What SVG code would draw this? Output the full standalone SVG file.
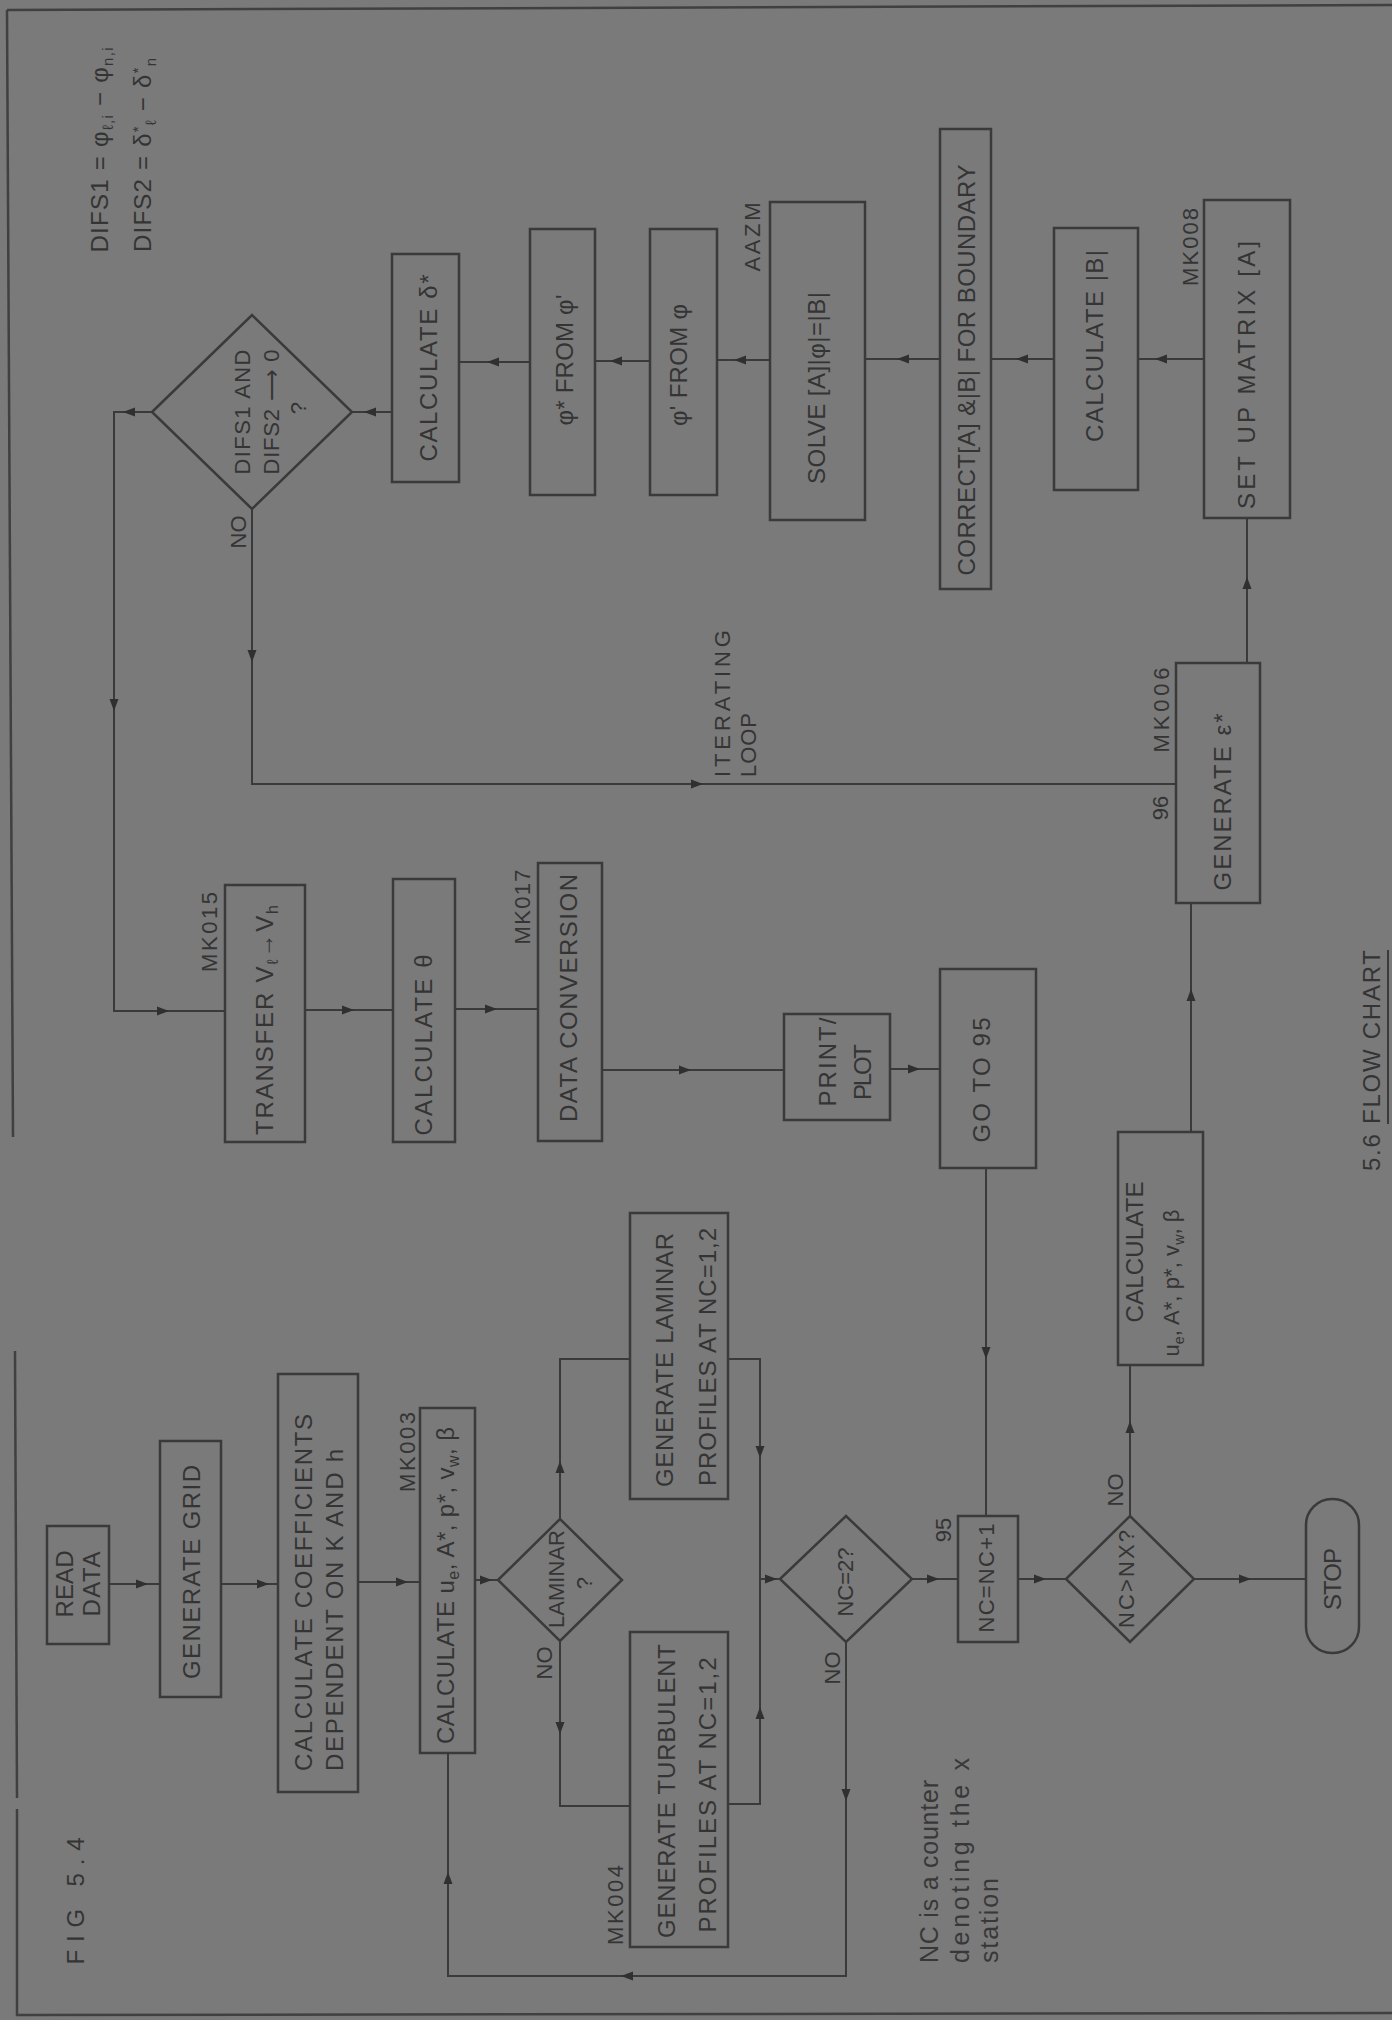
<svg xmlns="http://www.w3.org/2000/svg" xmlns:xlink="http://www.w3.org/1999/xlink" width="1392" height="2020" viewBox="0 0 1392 2020">
<style>
.box{fill:none;stroke:#3a3a3a;stroke-width:2.5}
.ln{fill:none;stroke:#3a3a3a;stroke-width:2}
.fr{fill:none;stroke:#404040;stroke-width:2.5}
.t{font-family:"Liberation Sans",Arial,sans-serif;font-size:24px;fill:#343434}
.s{font-family:"Liberation Sans",Arial,sans-serif;font-size:22px;fill:#343434}
.n{font-family:"Liberation Sans",Arial,sans-serif;font-size:25px;fill:#383838}
</style>
<defs>
<path id="ah" d="M6,0 L-6,-4.5 L-6,4.5 Z" fill="#303030"/>
</defs>
<rect x="0" y="0" width="1392" height="2020" fill="#7a7a7a"/>
<g id="frame">
<path class="fr" d="M7,10 L1392,5"/>
<path class="fr" d="M7,10 L13,1137"/>
<path class="fr" d="M15,1351 L17,1798"/>
<path class="fr" d="M17,1809 L17,2015 L1392,2013"/>
</g>
<g id="connectors">
<path class="ln" d="M1204,359 H1138"/><use href="#ah" transform="translate(1161,359) rotate(180)"/>
<path class="ln" d="M1054,359 H991"/><use href="#ah" transform="translate(1022,359) rotate(180)"/>
<path class="ln" d="M940,359 H865"/><use href="#ah" transform="translate(903,359) rotate(180)"/>
<path class="ln" d="M770,360 H717"/><use href="#ah" transform="translate(740,360) rotate(180)"/>
<path class="ln" d="M650,361 H595"/><use href="#ah" transform="translate(616,361) rotate(180)"/>
<path class="ln" d="M530,362 H459"/><use href="#ah" transform="translate(493,362) rotate(180)"/>
<path class="ln" d="M392,412 H352"/><use href="#ah" transform="translate(370,412) rotate(180)"/>
<path class="ln" d="M152,412 H114 V1011 H225"/><use href="#ah" transform="translate(129,412) rotate(180)"/><use href="#ah" transform="translate(114,705) rotate(90)"/><use href="#ah" transform="translate(163,1011)"/>
<path class="ln" d="M252,509 V784 H1176"/><use href="#ah" transform="translate(252,656) rotate(90)"/><use href="#ah" transform="translate(697,784)"/>
<path class="ln" d="M305,1010 H393"/><use href="#ah" transform="translate(348,1010)"/>
<path class="ln" d="M455,1009 H538"/><use href="#ah" transform="translate(491,1009)"/>
<path class="ln" d="M602,1070 H784"/><use href="#ah" transform="translate(685,1070)"/>
<path class="ln" d="M890,1069 H940"/><use href="#ah" transform="translate(914,1069)"/>
<path class="ln" d="M986,1168 V1516"/><use href="#ah" transform="translate(986,1353) rotate(90)"/>
<path class="ln" d="M1247,663 V518"/><use href="#ah" transform="translate(1247,583) rotate(-90)"/>
<path class="ln" d="M1191,1132 V903"/><use href="#ah" transform="translate(1191,995) rotate(-90)"/>
<path class="ln" d="M1130,1516 V1365"/><use href="#ah" transform="translate(1130,1427) rotate(-90)"/>
<path class="ln" d="M1194,1579 H1306"/><use href="#ah" transform="translate(1245,1579)"/>
<path class="ln" d="M1018,1579 H1066"/><use href="#ah" transform="translate(1040,1579)"/>
<path class="ln" d="M912,1579 H958"/><use href="#ah" transform="translate(933,1579)"/>
<path class="ln" d="M846,1642 V1976 H448 V1753"/><use href="#ah" transform="translate(846,1795) rotate(90)"/><use href="#ah" transform="translate(627,1976) rotate(180)"/><use href="#ah" transform="translate(448,1878) rotate(-90)"/>
<path class="ln" d="M475,1580 H498"/><use href="#ah" transform="translate(486,1580)"/>
<path class="ln" d="M358,1582 H420"/><use href="#ah" transform="translate(402,1582)"/>
<path class="ln" d="M221,1584 H278"/><use href="#ah" transform="translate(263,1584)"/>
<path class="ln" d="M109,1584 H160"/><use href="#ah" transform="translate(142,1584)"/>
<path class="ln" d="M560,1519 V1359 H630"/><use href="#ah" transform="translate(560,1467) rotate(-90)"/>
<path class="ln" d="M560,1641 V1806 H630"/><use href="#ah" transform="translate(560,1728) rotate(90)"/>
<path class="ln" d="M728,1359 H760 V1804 H728 M760,1579 H780"/><use href="#ah" transform="translate(760,1452) rotate(90)"/><use href="#ah" transform="translate(760,1713) rotate(-90)"/><use href="#ah" transform="translate(771,1579)"/>
</g>
<g id="read-data">
<rect class="box" x="47" y="1526" width="62" height="118"/>
<text class="t" text-anchor="middle" transform="translate(65,1584) rotate(-90)" y="8" textLength="67">READ</text>
<text class="t" text-anchor="middle" transform="translate(92,1584) rotate(-90)" y="8" textLength="65">DATA</text>
</g>
<g id="generate-grid">
<rect class="box" x="160" y="1441" width="61" height="256"/>
<text class="t" text-anchor="middle" transform="translate(192,1572) rotate(-90)" y="8" textLength="214">GENERATE  GRID</text>
</g>
<g id="calc-coeff">
<rect class="box" x="278" y="1374" width="80" height="418"/>
<text class="t" transform="translate(304,1771) rotate(-90)" y="8" textLength="357">CALCULATE COEFFICIENTS</text>
<text class="t" transform="translate(335,1771) rotate(-90)" y="8" textLength="322">DEPENDENT ON K AND h</text>
</g>
<g id="mk003">
<rect class="box" x="420" y="1408" width="55" height="345"/>
<text class="t" transform="translate(446,1744) rotate(-90)" y="8" textLength="317">CALCULATE  u<tspan dy="5" font-size="16">e</tspan><tspan dy="-5">, A*, p*, v</tspan><tspan dy="5" font-size="16">w</tspan><tspan dy="-5">, β</tspan></text>
<text class="s" text-anchor="middle" transform="translate(408,1452) rotate(-90)" y="7" textLength="80">MK003</text>
</g>
<g id="laminar">
<polygon class="box" points="498,1580 560,1519 622,1580 560,1641"/>
<text class="s" text-anchor="middle" transform="translate(557,1579) rotate(-90)" y="7" textLength="98">LAMINAR</text>
<text class="s" text-anchor="middle" transform="translate(585,1583) rotate(-90)" y="7">?</text>
<text class="s" text-anchor="middle" transform="translate(545,1663) rotate(-90)" y="7">NO</text>
</g>
<g id="gen-laminar">
<rect class="box" x="630" y="1213" width="98" height="286"/>
<text class="t" text-anchor="middle" transform="translate(665,1360) rotate(-90)" y="8" textLength="254">GENERATE LAMINAR</text>
<text class="t" text-anchor="middle" transform="translate(708,1357) rotate(-90)" y="8" textLength="258">PROFILES AT NC=1,2</text>
</g>
<g id="gen-turbulent">
<rect class="box" x="630" y="1632" width="98" height="315"/>
<text class="t" text-anchor="middle" transform="translate(667,1791) rotate(-90)" y="8" textLength="294">GENERATE TURBULENT</text>
<text class="t" text-anchor="middle" transform="translate(708,1795) rotate(-90)" y="8" textLength="275">PROFILES AT NC=1,2</text>
<text class="s" text-anchor="middle" transform="translate(616,1905) rotate(-90)" y="7" textLength="80">MK004</text>
</g>
<g id="nc-eq-2">
<polygon class="box" points="780,1579 846,1516 912,1579 846,1642"/>
<text class="s" text-anchor="middle" transform="translate(846,1582) rotate(-90)" y="7" textLength="69">NC=2?</text>
<text class="s" text-anchor="middle" transform="translate(833,1668) rotate(-90)" y="7">NO</text>
</g>
<g id="nc-inc">
<rect class="box" x="958" y="1516" width="60" height="126"/>
<text class="s" text-anchor="middle" transform="translate(987,1578) rotate(-90)" y="7" textLength="109">NC=NC+1</text>
<text class="s" text-anchor="middle" transform="translate(944,1530) rotate(-90)" y="7">95</text>
</g>
<g id="nc-gt-nx">
<polygon class="box" points="1066,1579 1130,1516 1194,1579 1130,1642"/>
<text class="s" text-anchor="middle" transform="translate(1127,1579) rotate(-90)" y="7" textLength="98">NC&gt;NX?</text>
<text class="s" text-anchor="middle" transform="translate(1116,1490) rotate(-90)" y="7">NO</text>
</g>
<g id="stop">
<rect class="box" x="1306" y="1499" width="53" height="154" rx="26" ry="26"/>
<text class="t" text-anchor="middle" transform="translate(1333,1579) rotate(-90)" y="8" textLength="62">STOP</text>
</g>
<g id="calc-ue">
<rect class="box" x="1118" y="1132" width="85" height="233"/>
<text class="t" text-anchor="middle" transform="translate(1135,1252) rotate(-90)" y="8" textLength="141">CALCULATE</text>
<text class="s" text-anchor="middle" transform="translate(1172,1283) rotate(-90)" y="7" textLength="147">u<tspan dy="5" font-size="14">e</tspan><tspan dy="-5">, A*, p*, v</tspan><tspan dy="5" font-size="14">w</tspan><tspan dy="-5">, β</tspan></text>
</g>
<g id="generate-eps">
<rect class="box" x="1176" y="663" width="84" height="240"/>
<text class="t" text-anchor="middle" transform="translate(1223,802) rotate(-90)" y="8" textLength="177">GENERATE ε*</text>
<text class="s" text-anchor="middle" transform="translate(1162,710) rotate(-90)" y="7" textLength="85">MK006</text>
<text class="s" text-anchor="middle" transform="translate(1161,808) rotate(-90)" y="7">96</text>
</g>
<g id="setup-matrix">
<rect class="box" x="1204" y="200" width="86" height="318"/>
<text class="t" text-anchor="middle" transform="translate(1247,375) rotate(-90)" y="8" textLength="268">SET UP MATRIX [A]</text>
<text class="s" text-anchor="middle" transform="translate(1191,247) rotate(-90)" y="7" textLength="78">MK008</text>
</g>
<g id="calc-b">
<rect class="box" x="1054" y="228" width="84" height="262"/>
<text class="t" text-anchor="middle" transform="translate(1095,346) rotate(-90)" y="8" textLength="192">CALCULATE |B|</text>
</g>
<g id="correct">
<rect class="box" x="940" y="129" width="51" height="460"/>
<text class="t" text-anchor="middle" transform="translate(967,370) rotate(-90)" y="8" textLength="411">CORRECT[A] &amp;|B| FOR BOUNDARY</text>
</g>
<g id="solve">
<rect class="box" x="770" y="202" width="95" height="318"/>
<text class="t" text-anchor="middle" transform="translate(817,388) rotate(-90)" y="8" textLength="192">SOLVE [A]|φ|=|B|</text>
<text class="s" text-anchor="middle" transform="translate(753,237) rotate(-90)" y="7" textLength="69">AAZM</text>
</g>
<g id="phi-prime">
<rect class="box" x="650" y="229" width="67" height="266"/>
<text class="t" text-anchor="middle" transform="translate(679,365) rotate(-90)" y="8" textLength="122">φ' FROM φ</text>
</g>
<g id="phi-star">
<rect class="box" x="530" y="229" width="65" height="266"/>
<text class="t" text-anchor="middle" transform="translate(565,360) rotate(-90)" y="8" textLength="131">φ* FROM φ'</text>
</g>
<g id="calc-delta">
<rect class="box" x="392" y="254" width="67" height="228"/>
<text class="t" text-anchor="middle" transform="translate(429,368) rotate(-90)" y="8" textLength="187">CALCULATE δ*</text>
</g>
<g id="difs">
<polygon class="box" points="152,412 252,315 352,412 252,509"/>
<text class="s" text-anchor="middle" transform="translate(243,412) rotate(-90)" y="7" textLength="125">DIFS1 AND</text>
<text class="s" text-anchor="middle" transform="translate(272,412) rotate(-90)" y="7" textLength="125">DIFS2 ⟶ 0</text>
<text class="s" text-anchor="middle" transform="translate(299,408) rotate(-90)" y="7">?</text>
<text class="s" text-anchor="middle" transform="translate(239,532) rotate(-90)" y="7">NO</text>
</g>
<g id="transfer">
<rect class="box" x="225" y="885" width="80" height="257"/>
<text class="t" text-anchor="middle" transform="translate(265,1020) rotate(-90)" y="8" textLength="230">TRANSFER  V<tspan dy="5" font-size="16">ℓ</tspan><tspan dy="-5">→V</tspan><tspan dy="5" font-size="16">h</tspan></text>
<text class="s" text-anchor="middle" transform="translate(210,932) rotate(-90)" y="7" textLength="80">MK015</text>
</g>
<g id="calc-theta">
<rect class="box" x="393" y="879" width="62" height="263"/>
<text class="t" text-anchor="middle" transform="translate(424,1045) rotate(-90)" y="8" textLength="181">CALCULATE θ</text>
</g>
<g id="data-conv">
<rect class="box" x="538" y="863" width="64" height="278"/>
<text class="t" text-anchor="middle" transform="translate(569,998) rotate(-90)" y="8" textLength="248">DATA CONVERSION</text>
<text class="s" text-anchor="middle" transform="translate(523,907) rotate(-90)" y="7" textLength="75">MK017</text>
</g>
<g id="print-plot">
<rect class="box" x="784" y="1014" width="106" height="106"/>
<text class="t" text-anchor="middle" transform="translate(828,1062) rotate(-90)" y="8" textLength="89">PRINT/</text>
<text class="t" text-anchor="middle" transform="translate(863,1072) rotate(-90)" y="8" textLength="56">PLOT</text>
</g>
<g id="goto95">
<rect class="box" x="940" y="969" width="96" height="199"/>
<text class="t" text-anchor="middle" transform="translate(982,1080) rotate(-90)" y="8" textLength="125">GO TO 95</text>
</g>
<g id="labels">
<text class="t" text-anchor="middle" transform="translate(100,150) rotate(-90)" y="8" textLength="205">DIFS1 = φ<tspan dy="5" font-size="15">ℓ,i</tspan><tspan dy="-5"> − φ</tspan><tspan dy="5" font-size="15">n,i</tspan></text>
<text class="t" text-anchor="middle" transform="translate(143,155) rotate(-90)" y="8" textLength="194">DIFS2 = δ<tspan dy="-8" font-size="15">*</tspan><tspan dy="13" font-size="15">ℓ</tspan><tspan dy="-5"> − δ</tspan><tspan dy="-8" font-size="15">*</tspan><tspan dy="13" font-size="15">n</tspan></text>
<text class="s" transform="translate(723,777) rotate(-90)" y="7" textLength="147">ITERATING</text>
<text class="s" transform="translate(749,777) rotate(-90)" y="7" textLength="64">LOOP</text>
<text class="t" text-anchor="middle" transform="translate(76,1901) rotate(-90)" y="8" textLength="127">FIG  5.4</text>
<text class="n" transform="translate(931,1963) rotate(-90)" y="7" textLength="183">NC is a counter</text>
<text class="n" transform="translate(962,1963) rotate(-90)" y="7" textLength="205">denoting the x</text>
<text class="n" transform="translate(991,1963) rotate(-90)" y="7" textLength="85">station</text>
<text class="t" transform="translate(1372,1171) rotate(-90)" y="8" textLength="221">5.6  FLOW CHART</text>
<path class="ln" d="M1388,1124 V950"/>
</g>
</svg>
